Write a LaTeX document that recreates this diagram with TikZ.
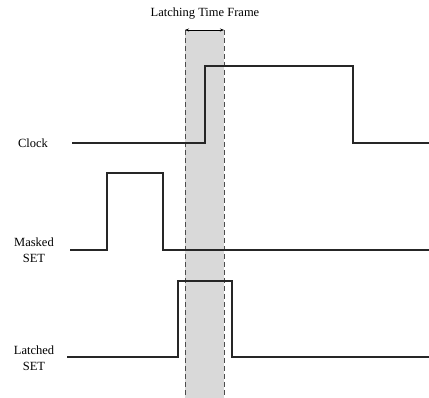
\documentclass[tikz,border=0pt]{standalone}
\usepackage{fontspec}
\setmainfont{Liberation Serif}
\usepackage{tikz}
\usetikzlibrary{arrows.meta, positioning}

\begin{document}
\begin{tikzpicture}[
    x=1pt,
    y=-1pt,
    signal/.style={
        line width=1.5pt,
        draw=black!85
    },
    frame/.style={
        dash pattern=on 5pt off 3pt,
        line width=0.7pt,
        draw=black!70
    },
    label/.style={
        align=center,
        font=\fontsize{12.5}{15.5}\selectfont
    },
    arrow/.style={
        <->,
        >={Stealth[length=4pt]},
        line width=0.7pt
    }
]
\useasboundingbox (0,0) rectangle (429,398);
% LATCHING WINDOW
\fill[gray!30] (185,30) rectangle (224,398);
\draw[frame] (185,30) -- (185,398);
\draw[frame] (224,30) -- (224,398);
\coordinate (winL) at (185,30);
\coordinate (winR) at (224,30);
\draw[arrow] (winL) -- (winR);
\node (title) [label] at (205,14) {Latching Time Frame};
% SIGNAL LABELS
\node (clk) [label] at (33,143) {Clock};
\node (mset) [label] at (34,250) {Masked\\SET};
\node (lset) [label] at (34,358) {Latched\\SET};
% CLOCK
\draw[signal] (72,143) -- (205,143) -- (205,66) -- (353,66) -- (353,143) -- (429,143);
% MASKED SET
\draw[signal] (70,250) -- (107,250) -- (107,173) -- (163,173) -- (163,250) -- (429,250);
% LATCHED SET
\draw[signal] (67,357) -- (178,357) -- (178,281) -- (232,281) -- (232,357) -- (429,357);
\end{tikzpicture}
\end{document}
